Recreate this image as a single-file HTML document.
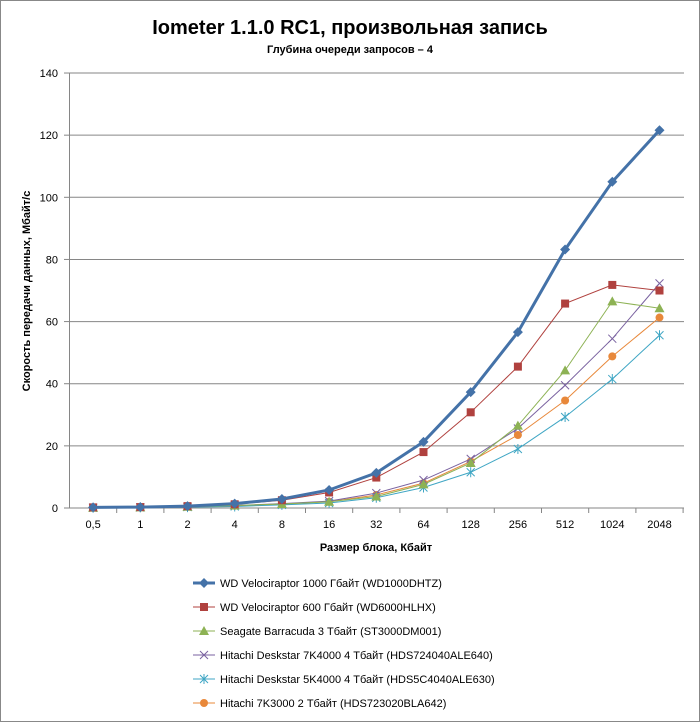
<!DOCTYPE html>
<html><head><meta charset="utf-8"><style>
body{margin:0;background:#fff}
svg{font-family:"Liberation Sans",sans-serif}
</style></head><body>
<svg id="s" width="700" height="722" xmlns="http://www.w3.org/2000/svg">
<rect x="0.5" y="0.5" width="699" height="721" fill="#fff" stroke="#888"/>
<text x="350" y="34" text-anchor="middle" font-size="20" font-weight="bold">Iometer 1.1.0 RC1, произвольная запись</text>
<text x="350" y="53" text-anchor="middle" font-size="11" font-weight="bold">Глубина очереди запросов – 4</text>
<text transform="translate(30,291) rotate(-90)" text-anchor="middle" font-size="11" font-weight="bold">Скорость  передачи данных, Мбайт/с</text>
<text x="376" y="551" text-anchor="middle" font-size="11" font-weight="bold">Размер блока, Кбайт</text>
<g id="g"></g>
</svg>
<script>
const g=document.getElementById('g');let h='';
const X0=69.5,W=47.2,Y=v=>508-v*3.107;
for(let v=0;v<=140;v+=20){const y=Y(v);h+=`<line x1="${X0}" x2="684" y1="${y}" y2="${y}" stroke="#868686" stroke-width="1"/>`;h+=`<text x="58" y="${y+4}" text-anchor="end" font-size="11">${v}</text>`;h+=`<line x1="64" x2="${X0}" y1="${y}" y2="${y}" stroke="#868686"/>`;}
h+=`<line x1="${X0}" x2="${X0}" y1="73" y2="508" stroke="#868686"/>`;
const cats=["0,5","1","2","4","8","16","32","64","128","256","512","1024","2048"];
cats.forEach((c,i)=>{const x=X0+W/2+W*i;h+=`<text x="${x}" y="528" text-anchor="middle" font-size="11">${c}</text>`;h+=`<line x1="${X0+W*(i+1)}" x2="${X0+W*(i+1)}" y1="508" y2="513" stroke="#868686"/>`});
const S=[
["WD Velociraptor 1000 Гбайт (WD1000DHTZ)","#4472a8",3,"d",[0.2,0.3,0.6,1.4,2.9,5.8,11.3,21.3,37.3,56.6,83.2,105,121.6]],
["WD Velociraptor 600 Гбайт (WD6000HLHX)","#b0413e",1,"s",[0.2,0.3,0.6,1.2,2.5,5,9.8,18,30.8,45.5,65.8,71.8,70]],
["Seagate Barracuda 3 Тбайт (ST3000DM001)","#8db254",1,"t",[0.1,0.2,0.4,0.8,1.3,2,3.7,7.6,14.5,26.5,44.3,66.5,64.3]],
["Hitachi Deskstar 7K4000 4 Тбайт (HDS724040ALE640)","#7a62a0",1,"x",[0.1,0.2,0.4,0.8,1.4,2.2,4.8,9,15.8,25.6,39.5,54.5,72.3]],
["Hitachi Deskstar 5K4000 4 Тбайт (HDS5C4040ALE630)","#3fa6c4",1,"a",[0.1,0.2,0.3,0.5,1,1.6,3.3,6.6,11.5,19,29.3,41.5,55.6]],
["Hitachi 7K3000 2 Тбайт (HDS723020BLA642)","#e8883a",1,"c",[0.1,0.2,0.4,0.7,1.2,2,4.2,8,15,23.5,34.6,48.8,61.3]]];
function mk(t,x,y,c){switch(t){
case"d":return `<path d="M${x} ${y-5}L${x+5} ${y}L${x} ${y+5}L${x-5} ${y}Z" fill="${c}"/>`;
case"s":return `<rect x="${x-4}" y="${y-4}" width="8" height="8" fill="${c}"/>`;
case"t":return `<path d="M${x} ${y-5}L${x+5} ${y+4}L${x-5} ${y+4}Z" fill="${c}"/>`;
case"x":return `<path d="M${x-4} ${y-4}L${x+4} ${y+4}M${x+4} ${y-4}L${x-4} ${y+4}" stroke="${c}"/>`;
case"a":return `<path d="M${x-4} ${y-4}L${x+4} ${y+4}M${x+4} ${y-4}L${x-4} ${y+4}M${x} ${y-5}L${x} ${y+5}" stroke="${c}"/>`;
case"c":return `<circle cx="${x}" cy="${y}" r="4" fill="${c}"/>`;}}
[...S].reverse().forEach(s=>{const p=s[4].map((v,i)=>[X0+W/2+W*i,Y(v)]);
h+=`<polyline points="${p.map(q=>q.join(',')).join(' ')}" fill="none" stroke="${s[1]}" stroke-width="${s[2]}"/>`;
p.forEach(q=>h+=mk(s[3],q[0],q[1],s[1]));});
S.forEach((s,i)=>{const y=583+24*i;h+=`<line x1="193" x2="215" y1="${y}" y2="${y}" stroke="${s[1]}" stroke-width="${s[2]}"/>`+mk(s[3],204,y,s[1])+`<text x="220" y="${y+4}" font-size="11">${s[0]}</text>`;});
g.innerHTML=h;
</script>
</body></html>
